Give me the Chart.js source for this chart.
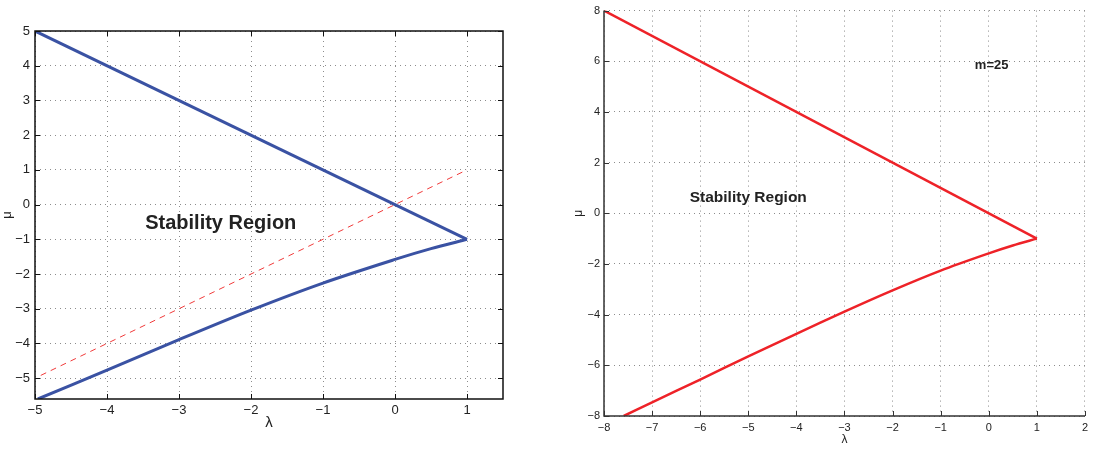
<!DOCTYPE html>
<html lang="en">
<head>
<meta charset="UTF-8" />
<title>Stability Region</title>
<script src="https://cdn.jsdelivr.net/npm/chart.js"></script>
<style>
  body { margin: 0; background: #fff; }
  #wrap { position: relative; width: 1093px; height: 451px; }
  #left { position: absolute; left: 0; top: 0; }
  #right { position: absolute; left: 546px; top: 0; }
</style>
</head>
<body>
<div id="wrap">
  <canvas id="left" width="546" height="451"></canvas>
  <canvas id="right" width="547" height="451"></canvas>
</div>
<script>
  // left panel
  const leftLamTicks = [-5, -4, -3, -2, -1, 0, 1];
  const leftMuTicks = [-5, -4, -3, -2, -1, 0, 1, 2, 3, 4, 5];
  const leftUpperLam = [-5, 1];
  const leftUpperMu = [5, -1];
  const leftLowerLam = [1, 0.5, 0, -1, -2, -3, -4, -4.96];
  const leftLowerMu = [-1, -1.27, -1.58, -2.26, -3.04, -3.89, -4.77, -5.6];
  const leftDiagLam = [-4.92, 1];
  const leftDiagMu = [-4.92, 1];

  // right panel (m=25)
  const rightLamTicks = [-8, -7, -6, -5, -4, -3, -2, -1, 0, 1, 2];
  const rightMuTicks = [-8, -6, -4, -2, 0, 2, 4, 6, 8];
  const rightUpperLam = [-8, 1];
  const rightUpperMu = [8, -1];
  const rightLowerLam = [1, 0.5, 0, -1, -2, -3, -4, -5, -6, -7, -7.59];
  const rightLowerMu = [-1, -1.27, -1.58, -2.26, -3.04, -3.88, -4.76, -5.65, -6.56, -7.46, -8];

  const FONT = "'Liberation Sans', Arial, sans-serif";

  function pts(xs, ys) {
    return xs.map((x, i) => ({ x: x, y: ys[i] }));
  }
  function minus(v) {
    return String(v).replace('-', '\u2212');
  }

  // frame, inward ticks and text labels
  const framePlugin = {
    id: 'frame',
    afterDraw(chart, args, opts) {
      const ctx = chart.ctx;
      const a = chart.chartArea;
      const xs = chart.scales.x, ys = chart.scales.y;
      ctx.save();
      ctx.strokeStyle = opts.color;
      ctx.lineWidth = opts.width;
      ctx.beginPath();
      if (opts.box) {
        ctx.rect(a.left, a.top, a.right - a.left, a.bottom - a.top);
      } else {
        ctx.moveTo(a.left, a.top);
        ctx.lineTo(a.left, a.bottom);
        ctx.lineTo(a.right, a.bottom);
      }
      ctx.stroke();
      ctx.lineWidth = 1;
      ctx.beginPath();
      xs.ticks.forEach(t => {
        const px = Math.round(xs.getPixelForValue(t.value)) + 0.5;
        ctx.moveTo(px, a.bottom); ctx.lineTo(px, a.bottom - 5);
        if (opts.box) { ctx.moveTo(px, a.top); ctx.lineTo(px, a.top + 5); }
      });
      ys.ticks.forEach(t => {
        const py = Math.round(ys.getPixelForValue(t.value)) + 0.5;
        ctx.moveTo(a.left, py); ctx.lineTo(a.left + 5, py);
        if (opts.box) { ctx.moveTo(a.right, py); ctx.lineTo(a.right - 5, py); }
      });
      ctx.stroke();
      ctx.fillStyle = '#222';
      ctx.textAlign = 'center';
      ctx.textBaseline = 'middle';
      (opts.notes || []).forEach(n => {
        ctx.font = 'bold ' + n.size + 'px ' + FONT;
        ctx.fillText(n.text, xs.getPixelForValue(n.x), ys.getPixelForValue(n.y));
      });
      ctx.restore();
    }
  };

  function makeScale(min, max, tickVals, size, fontSize, title, titleSize, titlePad, tickPad, horizontal) {
    return {
      type: 'linear',
      min: min,
      max: max,
      afterBuildTicks: s => { s.ticks = tickVals.map(v => ({ value: v })); },
      afterFit: s => { if (horizontal) s.height = size; else s.width = size; },
      grid: { color: '#8c8c8c', lineWidth: 1, drawTicks: false },
      border: { display: false, dash: [1, 4] },
      ticks: {
        autoSkip: false, maxRotation: 0, padding: tickPad, color: '#222',
        font: { family: FONT, size: fontSize },
        callback: v => minus(v)
      },
      title: {
        display: true, text: title, color: '#222',
        font: { family: FONT, size: titleSize },
        padding: titlePad
      }
    };
  }

  new Chart(document.getElementById('left'), {
    type: 'scatter',
    data: {
      datasets: [
        { data: pts(leftDiagLam, leftDiagMu), showLine: true, borderColor: '#f03a3a', borderWidth: 1, borderDash: [6, 5], pointRadius: 0 },
        { data: pts(leftUpperLam, leftUpperMu), showLine: true, borderColor: '#3a52a3', borderWidth: 3, pointRadius: 0 },
        { data: pts(leftLowerLam, leftLowerMu), showLine: true, borderColor: '#3a52a3', borderWidth: 3, pointRadius: 0, tension: 0.3 }
      ]
    },
    options: {
      responsive: false,
      animation: false,
      layout: { padding: { top: 31, right: 43, left: 0, bottom: 0 } },
      plugins: {
        legend: { display: false },
        tooltip: { enabled: false },
        frame: { box: true, color: '#111', width: 1.5, notes: [{ x: -2.42, y: -0.55, text: 'Stability Region', size: 20 }] }
      },
      scales: {
        x: makeScale(-5, 1.5, leftLamTicks, 52, 13, '\u03bb', 15, { top: 0, bottom: 19 }, 4, true),
        y: makeScale(-5.6, 5, leftMuTicks, 35, 13, '\u03bc', 13, { top: 0, bottom: 0 }, 5, false)
      }
    },
    plugins: [framePlugin]
  });

  new Chart(document.getElementById('right'), {
    type: 'scatter',
    data: {
      datasets: [
        { data: pts(rightUpperLam, rightUpperMu), showLine: true, borderColor: '#ee2228', borderWidth: 2.5, pointRadius: 0 },
        { data: pts(rightLowerLam, rightLowerMu), showLine: true, borderColor: '#ee2228', borderWidth: 2.5, pointRadius: 0, tension: 0.3 }
      ]
    },
    options: {
      responsive: false,
      animation: false,
      layout: { padding: { top: 8, right: 4, left: 0, bottom: 0 } },
      plugins: {
        legend: { display: false },
        tooltip: { enabled: false },
        frame: {
          box: false, color: '#333', width: 1.5,
          notes: [
            { x: -5.0, y: 0.63, text: 'Stability Region', size: 15.5 },
            { x: 0.06, y: 5.84, text: 'm=25', size: 13 }
          ]
        }
      },
      scales: {
        x: makeScale(-8, 2, rightLamTicks, 35, 11, '\u03bb', 12, { top: 0, bottom: 4 }, 5, true),
        y: makeScale(-8, 8, rightMuTicks, 58, 11, '\u03bc', 12, { top: 25, bottom: 0 }, 4, false)
      }
    },
    plugins: [framePlugin]
  });
</script>
</body>
</html>
